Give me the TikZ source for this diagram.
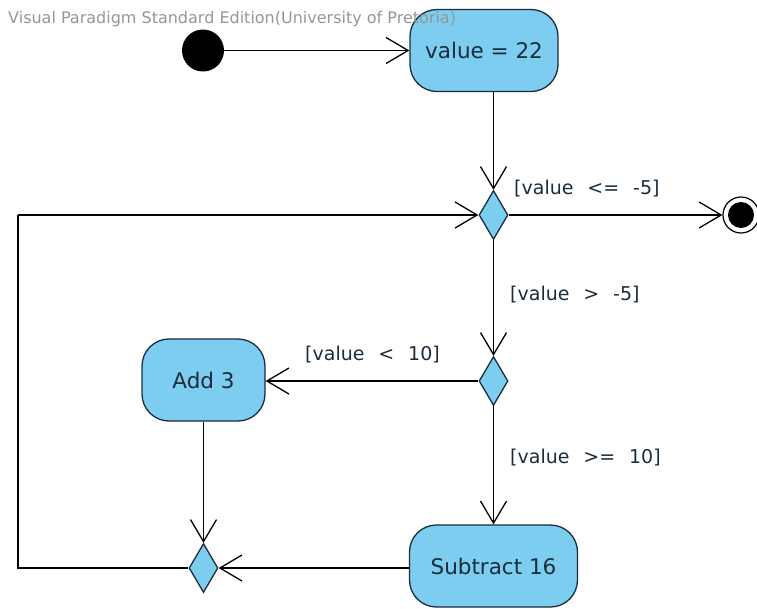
\documentclass[tikz,border=0pt]{standalone}
\usepackage{fontspec}
\setmainfont{DejaVu Sans}
\newfontfamily\lblfont{DejaVu Sans}[WordSpace=2.3]
\usetikzlibrary{arrows.meta,shapes.geometric}
\definecolor{actfill}{RGB}{125,205,240}
\definecolor{actline}{RGB}{25,45,60}
\definecolor{wm}{RGB}{150,150,150}
\begin{document}
\begin{tikzpicture}[x=1pt,y=-1pt,
  actbox/.style={draw=actline,fill=actfill,line width=1.3pt,rounded corners=27pt,
    minimum height=82pt,inner sep=0pt,text=actline,font=\fontsize{21.5}{24}\selectfont},
  decis/.style={diamond,draw=actline,fill=actfill,line width=1.3pt,inner sep=0pt,
    minimum width=29pt,minimum height=49pt},
  flow/.style={line width=1.4pt,-{Straight Barb[length=22pt,width=26pt,line width=1.3pt]}},
  plain/.style={line width=1.4pt},
  guard/.style={anchor=west,inner sep=0pt,text=actline,font=\lblfont\fontsize{19}{22}\selectfont}]
\useasboundingbox (0,0) rectangle (757,608);
\node[circle,fill=black,minimum size=42pt,inner sep=0pt] (init) at (203,50.5) {};
\node[actbox,minimum width=148pt] (v22) at (484,50.5) {value = 22};
\node[decis] (d1) at (493.5,215) {};
\node[decis] (d2) at (493.5,381) {};
\node[actbox,minimum width=123pt] (add) at (203.5,380) {Add 3};
\node[actbox,minimum width=168pt] (sub) at (493.5,566) {Subtract 16};
\node[decis] (m) at (203.5,568) {};
\node[circle,draw=black,line width=1.2pt,fill=white,minimum size=36pt,inner sep=0pt] (fin) at (741,215) {};
\fill[black] (fin.center) circle (13pt);
\coordinate (c1) at (18,568);
\coordinate (c2) at (18,215);
\draw[flow] (init) -- (v22.west);
\draw[flow] (v22.south -| d1.north) -- (d1.north);
\draw[flow] (d1.east) -- (fin.west);
\draw[flow] (d1.south) -- (d2.north);
\draw[flow] (d2.west) -- (add.east |- d2.west);
\draw[flow] (d2.south) -- (sub.north);
\draw[flow] (add.south -| m.north) -- (m.north);
\draw[flow] (sub.west |- m.east) -- (m.east);
\draw[plain] (m.west) -- (c1) -- (c2);
\draw[flow] (c2) -- (d1.west);
\node[guard] (g1) at (514,189) {[value <= -5]};
\node[guard] (g2) at (510,295) {[value > -5]};
\node[guard] (g3) at (305,355) {[value < 10]};
\node[guard] (g4) at (510,458) {[value >= 10]};
\node[anchor=west,inner sep=0pt,text=wm,font=\fontsize{16}{18}\selectfont] (wmark) at (8,19) {Visual Paradigm Standard Edition(University of Pretoria)};
\end{tikzpicture}
\end{document}
